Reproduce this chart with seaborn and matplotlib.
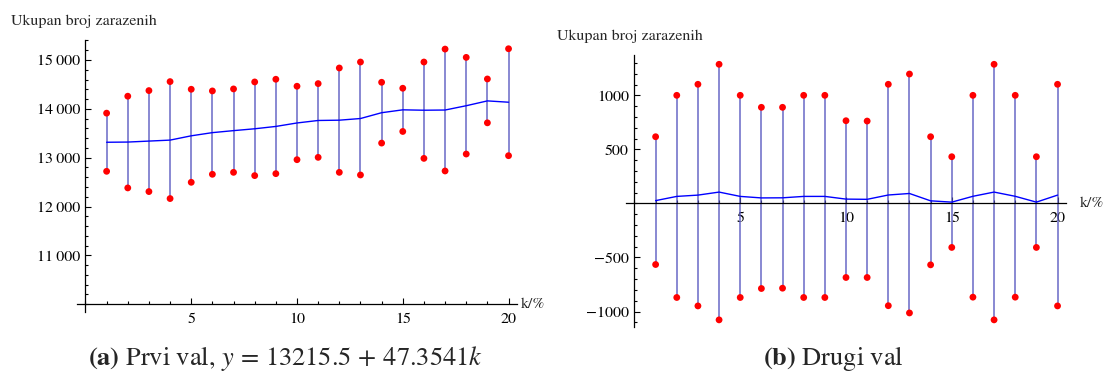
import numpy as np
import pandas as pd
import matplotlib
matplotlib.use("Agg")
import matplotlib.pyplot as plt
from matplotlib.ticker import MultipleLocator, FixedLocator, FuncFormatter
import seaborn as sns

k = list(range(1, 21))

# first wave: upper / lower values and the centre line
val1_hi = [13912, 14259, 14374, 14558, 14401, 14367, 14408, 14551, 14606, 14463,
           14517, 14837, 14959, 14544, 14422, 14959, 15224, 15054, 14612, 15231]
val1_lo = [12721, 12381, 12306, 12163, 12496, 12660, 12700, 12633, 12673, 12959,
           13007, 12700, 12646, 13299, 13537, 12986, 12728, 13075, 13714, 13041]
val1_mid = [13316, 13320, 13340, 13360, 13448, 13513, 13554, 13592, 13640, 13711,
            13762, 13768, 13802, 13921, 13980, 13972, 13976, 14064, 14163, 14136]

# second wave
val2_hi = [617, 1000, 1102, 1287, 1000, 889, 889, 1000, 1000, 765,
           762, 1102, 1197, 617, 432, 1000, 1287, 1000, 432, 1102]
val2_lo = [-565, -870, -948, -1077, -870, -787, -784, -870, -870, -685,
           -685, -946, -1013, -568, -407, -867, -1077, -867, -407, -948]
val2_mid = [26, 65, 77, 105, 65, 51, 52, 65, 65, 40,
            38, 78, 92, 24, 12, 66, 105, 66, 12, 77]

ylabel = "Ukupan broj zarazenih"
xlabel = "k/%"
cap_a = r"$\mathbf{(a)}$ Prvi val, $y\,=\,13215.5\,+\,47.3541k$"
cap_b = r"$\mathbf{(b)}$ Drugi val"

sns.set_style("ticks")
plt.rcParams['font.family'] = ['STIXGeneral', 'Liberation Serif', 'DejaVu Serif']
plt.rcParams['mathtext.fontset'] = 'stix'

W, H = 1110, 374
fig = plt.figure(figsize=(W / 100, H / 100), dpi=100)

def px_axes(x0, y0, x1, y1):
    return fig.add_axes([x0 / W, 1 - y1 / H, (x1 - x0) / W, (y1 - y0) / H])

stem_col = (0.33, 0.33, 0.75)

def draw(ax, hi, lo, mid, origin_y):
    df = pd.DataFrame({'k': k, 'hi': hi, 'lo': lo, 'mid': mid})
    ax.vlines(df['k'], df['lo'], df['hi'], color=stem_col, lw=1.3, alpha=0.75, zorder=2)
    sns.lineplot(data=df, x='k', y='mid', ax=ax, color='#0000ff', lw=1.0, zorder=3)
    pts = pd.concat([df[['k', 'hi']].rename(columns={'hi': 'v'}),
                     df[['k', 'lo']].rename(columns={'lo': 'v'})])
    sns.scatterplot(data=pts, x='k', y='v', ax=ax, color='#ff0000', s=24,
                    edgecolor='none', zorder=4)
    ax.set_xlabel('')
    ax.set_ylabel('')
    for s in ['top', 'right']:
        ax.spines[s].set_visible(False)
    ax.spines['left'].set_position(('data', 0))
    ax.spines['bottom'].set_position(('data', origin_y))
    for s in ['left', 'bottom']:
        ax.spines[s].set_linewidth(0.9)
        ax.spines[s].set_color('black')
    ax.set_xlim(-0.4, 20.4)
    ax.xaxis.set_major_locator(FixedLocator([5, 10, 15, 20]))
    ax.xaxis.set_minor_locator(MultipleLocator(1))
    ax.tick_params(which='both', direction='in', width=0.8, colors='black',
                   labelsize=11.5)
    ax.tick_params(axis='x', which='major', length=4.5, pad=6)
    ax.tick_params(axis='x', which='minor', length=2.5)
    ax.tick_params(axis='y', which='major', length=4.5, pad=4)
    ax.tick_params(axis='y', which='minor', length=2.5)
    ax.patch.set_alpha(0)

ax1 = px_axes(77, 40, 517, 312)
draw(ax1, val1_hi, val1_lo, val1_mid, 10000)
ax1.set_ylim(9840, 15410)
ax1.yaxis.set_major_locator(FixedLocator([11000, 12000, 13000, 14000, 15000]))
ax1.yaxis.set_minor_locator(MultipleLocator(200))
ax1.yaxis.set_major_formatter(FuncFormatter(
    lambda v, p: f"{int(v) // 1000}\u2009{int(v) % 1000:03d}"))

ax2 = px_axes(626, 55, 1066, 327)
draw(ax2, val2_hi, val2_lo, val2_mid, 0)
ax2.set_ylim(-1143, 1373)
ax2.yaxis.set_major_locator(FixedLocator([-1000, -500, 500, 1000]))
ax2.yaxis.set_minor_locator(MultipleLocator(100))
ax2.yaxis.set_major_formatter(FuncFormatter(
    lambda v, p: f"{int(v)}".replace('-', '\u2212')))

fig.text(11 / W, 1 - 21 / H, ylabel, fontsize=11.5, va='center', ha='left')
fig.text(557 / W, 1 - 36 / H, ylabel, fontsize=11.5, va='center', ha='left')
fig.text(521 / W, 1 - 304 / H, xlabel, fontsize=11.5, va='center', ha='left')
fig.text(1080 / W, 1 - 203 / H, xlabel, fontsize=11.5, va='center', ha='left')
fig.text(285 / W, 1 - 365 / H, cap_a, fontsize=19, va='baseline', ha='center')
fig.text(833 / W, 1 - 365 / H, cap_b, fontsize=19, va='baseline', ha='center')

fig.savefig("out.png", dpi=100)
